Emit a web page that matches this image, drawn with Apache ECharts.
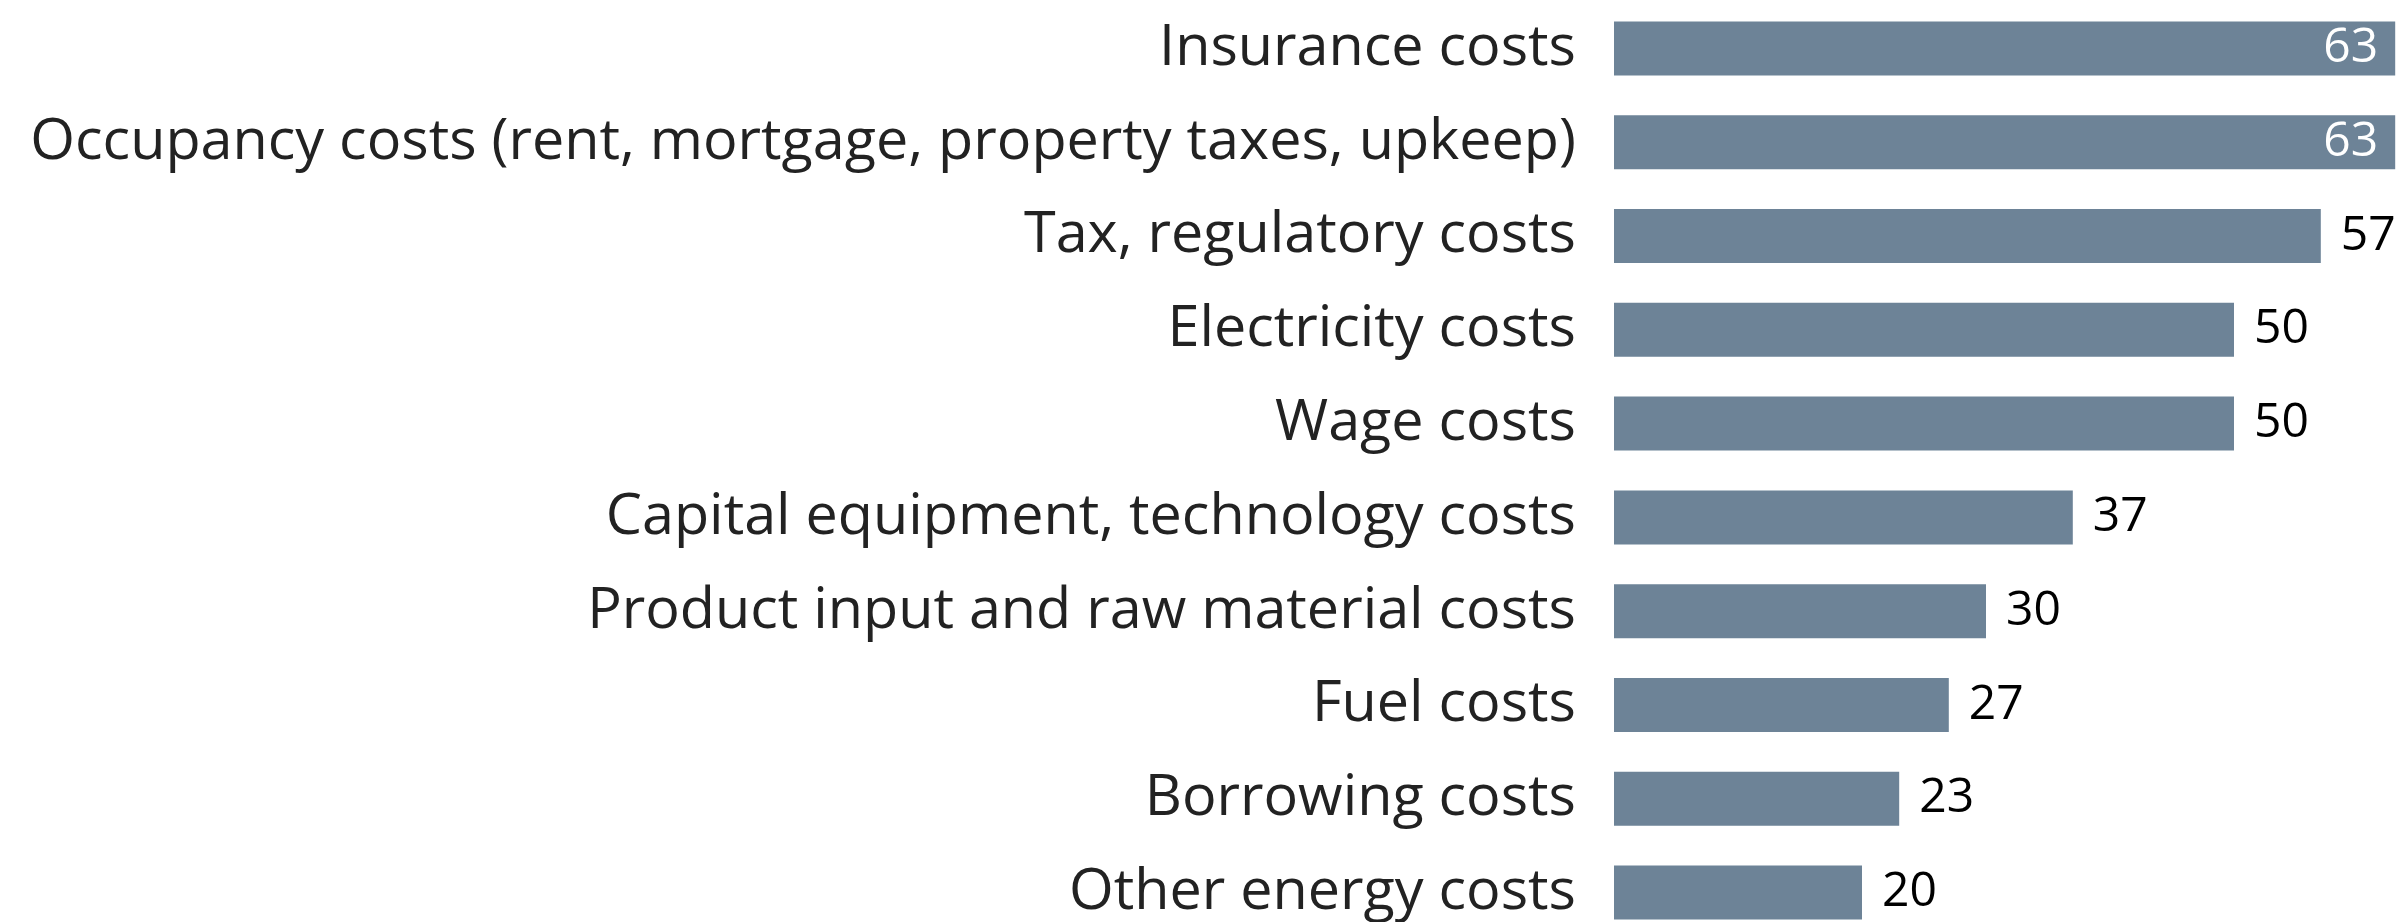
<!DOCTYPE html>
<html><head><meta charset="utf-8">
<script src="https://cdn.jsdelivr.net/npm/echarts@6/dist/echarts.min.js"></script>
<style>html,body{margin:0;padding:0;background:#fff}#c{width:2399px;height:922px}</style>
</head><body><div id="c"></div>
<script>
const categories = [
  "Insurance costs",
  "Occupancy costs (rent, mortgage, property taxes, upkeep)",
  "Tax, regulatory costs",
  "Electricity costs",
  "Wage costs",
  "Capital equipment, technology costs",
  "Product input and raw material costs",
  "Fuel costs",
  "Borrowing costs",
  "Other energy costs"
];
const values = [63, 63, 57, 50, 50, 37, 30, 27, 23, 20];

const chart = echarts.init(document.getElementById('c'));
chart.setOption({
  animation: false,
  grid: { left: 1614, width: 868, top: 1.5, height: 938, containLabel: false, outerBoundsMode: 'none' },
  xAxis: { type: 'value', min: 0, max: 70, show: false },
  yAxis: {
    type: 'category', data: categories, inverse: true,
    axisLine: { show: false }, axisTick: { show: false },
    axisLabel: { color: '#222222', fontFamily: 'Open Sans', fontSize: 57.5, margin: 38 }
  },
  series: [{
    type: 'bar', data: values.map(v => ({
      value: v,
      label: v >= 60 ? { position: 'insideRight', color: '#ffffff', distance: 17 } : {}
    })),
    barCategoryGap: '42.4%',
    itemStyle: { color: '#6d8397' },
    label: {
      show: true, position: 'right', distance: 20, color: '#000000',
      fontFamily: 'Open Sans', fontSize: 48
    }
  }]
});
</script></body></html>
